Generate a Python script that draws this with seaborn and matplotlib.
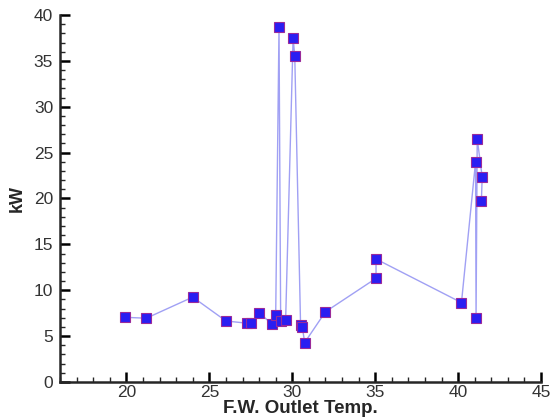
import numpy as np
import pandas as pd
import matplotlib
matplotlib.use("Agg")
import matplotlib.pyplot as plt
import seaborn as sns
from matplotlib.ticker import MultipleLocator

# F.W. outlet temperature vs kW, points in plotted (path) order
temp = [19.9, 21.2, 24.0, 26.0, 27.3, 27.5, 28.0, 28.75, 29.0, 29.2, 29.3, 29.6,
        30.05, 30.15, 30.5, 30.6, 30.75, 32.0, 35.05, 35.05, 40.2, 41.05, 41.08,
        41.15, 41.45, 41.4]
kw = [7.05, 6.95, 9.25, 6.65, 6.4, 6.45, 7.55, 6.35, 7.25, 38.65, 6.6, 6.8,
      37.5, 35.5, 6.2, 6.0, 4.3, 7.65, 11.3, 13.4, 8.65, 24.0, 6.95,
      26.5, 22.35, 19.7]

df = pd.DataFrame({"temp": temp, "kw": kw})

sns.set_style("ticks")
plt.rcParams['font.family'] = ['Liberation Sans', 'DejaVu Sans']

fig = plt.figure(figsize=(5.51, 4.17), dpi=100)
ax = fig.add_axes([0.109, 0.084, 0.873, 0.88])

sns.lineplot(data=df, x="temp", y="kw", sort=False, estimator=None, ax=ax,
             color="#a0a0f4", linewidth=1.0, marker="s", markersize=7.5,
             markerfacecolor="#2a1ef2", markeredgecolor="#9a2a9a",
             markeredgewidth=0.8)

ax.set_xlim(16, 45)
ax.set_ylim(0, 40)
ax.xaxis.set_major_locator(MultipleLocator(5))
ax.xaxis.set_minor_locator(MultipleLocator(1))
ax.yaxis.set_major_locator(MultipleLocator(5))
ax.yaxis.set_minor_locator(MultipleLocator(1))
ax.set_xticks([20, 25, 30, 35, 40, 45])

ax.tick_params(which="major", direction="in", length=7, width=1.8,
               labelsize=12.5, colors="black", labelcolor="#333333")
ax.tick_params(which="minor", direction="in", length=3.5, width=1.0)
ax.tick_params(axis="x", pad=2)
ax.tick_params(axis="y", pad=5)

for s in ["top", "right"]:
    ax.spines[s].set_visible(False)
for s in ["left", "bottom"]:
    ax.spines[s].set_linewidth(1.8)

ax.set_xlabel("F.W. Outlet Temp.", fontsize=13.5, fontweight="bold", labelpad=0)
ax.set_ylabel("kW", fontsize=13, fontweight="bold", labelpad=6)

fig.savefig("out.png", dpi=100)
